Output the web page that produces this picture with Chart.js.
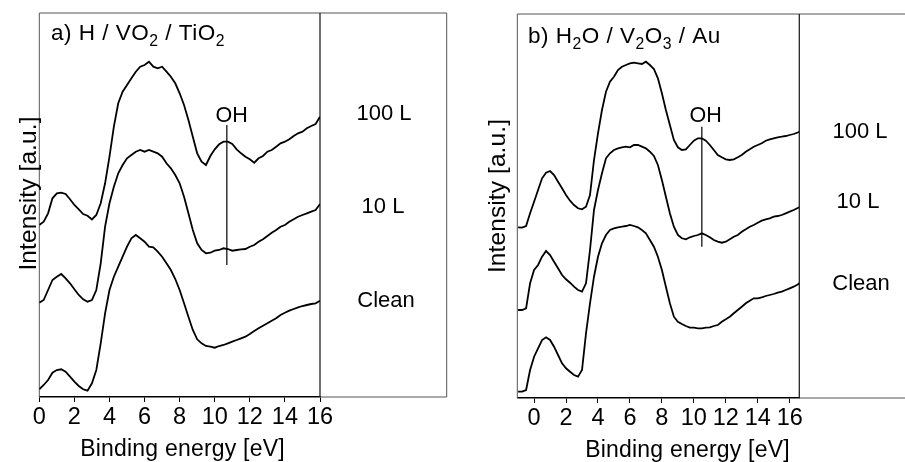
<!DOCTYPE html>
<html><head><meta charset="utf-8">
<script src="https://cdn.jsdelivr.net/npm/chart.js@4.4.1/dist/chart.umd.min.js"></script>
<style>
html,body{margin:0;padding:0;background:#fff;}
#wrap{position:relative;width:905px;height:462px;overflow:hidden;background:#fff;}
canvas{position:absolute;left:0;top:0;}
</style></head><body>
<div id="wrap"><canvas id="ca" width="905" height="462"></canvas><canvas id="cb" width="905" height="462"></canvas></div>
<script>
// ---------- DATA (intensity in arbitrary units) ----------
const tickLabelsA = [0, 2, 4, 6, 8, 10, 12, 14, 16];
const tickLabelsB = [0, 2, 4, 6, 8, 10, 12, 14, 16];
const coverages = ["100 L", "10 L", "Clean"];

// panel a) H / VO2 / TiO2
const energyA = [
  0, 0.25, 0.5, 0.75, 1, 1.25, 1.5, 1.75, 2, 2.25, 2.5, 2.75, 3, 3.25, 3.5, 3.75,
  4, 4.25, 4.5, 4.75, 5, 5.25, 5.5, 5.75, 6, 6.25, 6.5, 6.75, 7, 7.25, 7.5, 7.75,
  8, 8.25, 8.5, 8.75, 9, 9.25, 9.5, 9.75, 10, 10.25, 10.5, 10.75, 11, 11.25, 11.5, 11.75,
  12, 12.25, 12.5, 12.75, 13, 13.25, 13.5, 13.75, 14, 14.25, 14.5, 14.75, 15, 15.25, 15.5, 15.75,
  16
];
const a100L = [
  172, 175.3, 183.7, 198.7, 203.7, 204.3, 203, 197.7, 192, 187.7, 183, 181.3, 177.5, 182, 193.7, 213.7,
  240.3, 270.3, 293.7, 305.3, 312, 318.7, 325.3, 330.3, 332, 335.3, 330.3, 328.7, 330.3, 325.3, 320.3, 313.7,
  303.7, 292, 277, 260.3, 243.7, 235.3, 232, 241, 247.7, 252.7, 255.3, 255.3, 253, 247.7, 243.7, 240.3,
  237.7, 234.3, 238.7, 241, 245.3, 247, 250.3, 253.7, 255.3, 257.7, 261, 263.7, 265.3, 268.7, 271, 273,
  280.3
];
const a10L = [
  94.3, 97, 107, 117, 120.3, 123, 118.7, 113.7, 107.7, 102, 97.7, 95.3, 97, 107, 133.7, 170.3,
  193.7, 210.3, 223.7, 232, 238.7, 242, 245.3, 247, 245.3, 247, 245.3, 243.7, 240.3, 233.7, 228.7, 222,
  213.7, 200.3, 183.7, 167, 153.7, 147, 143.7, 144.3, 146.3, 147, 148.7, 148, 146.3, 147, 147.7, 148,
  150.3, 152, 155.3, 157.7, 161, 164.3, 167, 170.3, 172, 175.3, 177.7, 180.3, 182, 183.7, 185.3, 187,
  193
];
const aClean = [
  7.7, 12, 17, 24.3, 27, 27.7, 25.3, 20.3, 15.3, 11, 7.7, 6.3, 13.7, 27, 53.7, 83.7,
  107, 120.3, 130.3, 140.3, 150.3, 158.7, 162, 158.7, 155.3, 150.3, 149.7, 145.3, 140.3, 133.7, 127, 118,
  107, 93.7, 80.3, 67, 57.7, 53.7, 51, 50.3, 49.3, 51, 52, 53.7, 55.3, 57, 58.7, 60.3,
  63, 66, 68.7, 71.3, 73.7, 76.3, 78.7, 82, 84.3, 86.3, 88, 89.7, 91, 92, 93, 93.7,
  96.3
];
const ohA = { energy: 10.69, low: 132, high: 272 };

// panel b) H2O / V2O3 / Au
const energyB = [
  -1, -0.75, -0.5, -0.25,
  0, 0.25, 0.5, 0.75, 1, 1.25, 1.5, 1.75, 2, 2.25, 2.5, 2.75, 3, 3.25, 3.5, 3.75,
  4, 4.25, 4.5, 4.75, 5, 5.25, 5.5, 5.75, 6, 6.25, 6.5, 6.75, 7, 7.25, 7.5, 7.75,
  8, 8.25, 8.5, 8.75, 9, 9.25, 9.5, 9.75, 10, 10.25, 10.5, 10.75, 11, 11.25, 11.5, 11.75,
  12, 12.25, 12.5, 12.75, 13, 13.25, 13.5, 13.75, 14, 14.25, 14.5, 14.75, 15, 15.25, 15.5, 15.75,
  16, 16.25, 16.5, 16.6
];
const b100L = [
  170.7, 170.3, 172, 184.7,
  196.3, 208, 219.7, 225.3, 227, 223, 216.3, 209.7, 203, 197.3, 193, 189.7, 188.7, 191.3, 203, 238,
  264.7, 288, 306.3, 316.3, 321.3, 328, 331.3, 333, 334.7, 335.3, 334.7, 334, 336.3, 333, 329, 319.7,
  304.7, 288, 273, 258, 250.7, 248, 248.7, 253, 257.3, 259.7, 259.7, 257.3, 253, 248, 243, 240.7,
  238.7, 238, 238.7, 240.7, 243, 246.3, 248.7, 251.3, 253, 254.7, 257.3, 258.7, 259.7, 260.7, 261.3, 262,
  263, 264, 265.5, 266.3
];
const b10L = [
  88, 88, 89.7, 114.7,
  128, 133, 141.3, 147, 143, 136.3, 129.7, 123, 118.7, 115.3, 111.3, 108, 106.3, 114.7, 148, 188,
  208, 224.7, 239.7, 244.7, 248, 249.7, 250.7, 251.3, 250.7, 253, 253, 251.3, 249.7, 246.3, 242, 233,
  218, 201.3, 184.7, 171.3, 163, 159.7, 158.7, 160.7, 162, 163, 164.7, 163, 160.7, 158, 156.3, 155.3,
  156.3, 158.7, 161.3, 163, 166.3, 168.7, 171.3, 173, 175.3, 177.3, 178.7, 179.7, 181.3, 182, 183, 184.7,
  186.3, 188, 190, 190.7
];
const bClean = [
  6.3, 6.3, 8, 28,
  41.3, 49.7, 58, 60.7, 58, 51.3, 43, 34.7, 29.7, 26.3, 23, 21.3, 28, 64.7, 94.7, 121.3,
  141.3, 154.7, 163, 168, 169.7, 170.7, 171.3, 172, 173, 172, 170.7, 168, 164.7, 158, 151.3, 141.3,
  128, 111.3, 94.7, 81.3, 76.3, 74, 72, 70.3, 70.3, 69.7, 69.7, 70.3, 70.7, 72, 73, 76.3,
  78.7, 81.3, 84.7, 88, 91.3, 94.7, 97.3, 99.7, 99.7, 100.7, 102, 103, 104, 105.3, 106.3, 108,
  109.7, 111.3, 113.5, 114.7
];
const ohB = { energy: 10.5, low: 151.3, high: 271.3 };

// ---------- RENDERING ----------
const FONT = '"Liberation Sans", Arial, Helvetica, sans-serif';

function pts(xs, ys) { return xs.map((x, i) => ({ x: x, y: ys[i] })); }

function drawRich(ctx, segs, x, y, size, align, spacing) {
  let w = 0;
  const parts = segs.map(s => {
    const fs = s.sub ? size * 0.7 : size;
    ctx.font = fs + 'px ' + FONT;
    ctx.letterSpacing = (spacing || 0) + 'px';
    const m = ctx.measureText(s.t).width;
    w += m;
    return { t: s.t, fs: fs, m: m, dy: s.sub ? size * 0.27 : 0 };
  });
  let cx = align === 'center' ? x - w / 2 : x;
  parts.forEach(p => {
    ctx.font = p.fs + 'px ' + FONT;
    ctx.letterSpacing = (spacing || 0) + 'px';
    ctx.fillText(p.t, cx, y + p.dy);
    cx += p.m;
  });
}

const panelPlugin = {
  id: 'panel',
  beforeDatasetsDraw(chart, args, o) {
    const ctx = chart.ctx, ca = chart.chartArea;
    ctx.save();
    ctx.strokeStyle = o.boxColor;
    ctx.lineWidth = 1;
    ctx.beginPath();
    ctx.moveTo(ca.left, ca.bottom); ctx.lineTo(ca.left, ca.top);
    ctx.lineTo(o.outerRight, ca.top); ctx.lineTo(o.outerRight, ca.bottom);
    ctx.lineTo(ca.right, ca.bottom);
    ctx.stroke();
    ctx.strokeStyle = o.dividerColor;
    ctx.lineWidth = 1.3;
    ctx.beginPath();
    ctx.moveTo(ca.right, ca.top); ctx.lineTo(ca.right, ca.bottom);
    ctx.stroke();
    ctx.restore();
  },
  afterDraw(chart, args, o) {
    const ctx = chart.ctx;
    ctx.save();
    ctx.fillStyle = '#000';
    ctx.textBaseline = 'alphabetic';
    o.texts.forEach(t => {
      if (t.rotate) {
        ctx.save();
        ctx.translate(t.x, t.y);
        ctx.rotate(-Math.PI / 2);
        drawRich(ctx, t.segs, 0, 0, t.size, 'center', t.spacing);
        ctx.restore();
      } else {
        drawRich(ctx, t.segs, t.x, t.y, t.size, t.align, t.spacing);
      }
    });
    ctx.restore();
  }
};

function makeChart(id, cfg) {
  const ds = cfg.series.map(s => ({
    data: pts(cfg.energy, s),
    borderColor: '#000', borderWidth: 1.8, pointRadius: 0, tension: 0, fill: false
  }));
  ds.push({
    data: [{ x: cfg.oh.energy, y: cfg.oh.low }, { x: cfg.oh.energy, y: cfg.oh.high }],
    borderColor: '#000', borderWidth: 1.2, pointRadius: 0, fill: false
  });
  return new Chart(document.getElementById(id), {
    type: 'line',
    data: { datasets: ds },
    plugins: [panelPlugin],
    options: {
      responsive: false, animation: false, devicePixelRatio: 1,
      layout: { padding: cfg.padding },
      plugins: {
        legend: { display: false }, tooltip: { enabled: false }, title: { display: false },
        panel: { boxColor: '#555', dividerColor: '#222', outerRight: cfg.outerRight, texts: cfg.texts }
      },
      scales: {
        x: {
          type: 'linear', min: cfg.xmin, max: cfg.xmax,
          afterBuildTicks: s => { s.ticks = cfg.ticks.map(v => ({ value: v })); },
          afterFit: s => { s.height = cfg.xHeight; },
          ticks: { font: { family: FONT, size: 23.5 }, color: '#000', padding: 1, maxRotation: 0, autoSkip: false },
          grid: { display: true, drawOnChartArea: false, drawTicks: true, tickLength: 5, color: '#000', lineWidth: 1 },
          border: { display: true, color: '#000', width: 1.5 }
        },
        y: { type: 'linear', display: false, min: 0, max: 384 }
      }
    }
  });
}

const sub = t => ({ t: t, sub: true });
const txt = t => ({ t: t });

makeChart('ca', {
  energy: energyA, series: [a100L, a10L, aClean], oh: ohA, ticks: tickLabelsA,
  xmin: 0, xmax: 16, xHeight: 65,
  padding: { left: 39.3, top: 13, right: 905 - 320, bottom: 0 },
  outerRight: 446.7,
  texts: [
    { segs: [txt('a) H / VO'), sub('2'), txt(' / TiO'), sub('2')], x: 51, y: 40, size: 22.5, align: 'left', spacing: 0.5 },
    { segs: [txt('OH')], x: 231.7, y: 121.5, size: 21.5, align: 'center' },
    { segs: [txt(coverages[0])], x: 384, y: 120, size: 22, align: 'center' },
    { segs: [txt(coverages[1])], x: 383, y: 213, size: 22, align: 'center' },
    { segs: [txt(coverages[2])], x: 386, y: 307, size: 22, align: 'center' },
    { segs: [txt('Binding energy [eV]')], x: 182.5, y: 456, size: 23, align: 'center', spacing: 0.2 },
    { segs: [txt('Intensity [a.u.]')], x: 36, y: 193.5, size: 24.5, rotate: true, spacing: 0.1 }
  ]
});

makeChart('cb', {
  energy: energyB, series: [b100L, b10L, bClean], oh: ohB, ticks: tickLabelsB,
  xmin: -1.05, xmax: 16.6, xHeight: 64,
  padding: { left: 517.3, top: 14, right: 905 - 799.3, bottom: 0 },
  outerRight: 910,
  texts: [
    { segs: [txt('b) H'), sub('2'), txt('O / V'), sub('2'), txt('O'), sub('3'), txt(' / Au')], x: 528, y: 42.7, size: 22.5, align: 'left', spacing: 0.5 },
    { segs: [txt('OH')], x: 705.7, y: 122, size: 21.5, align: 'center' },
    { segs: [txt(coverages[0])], x: 860, y: 138, size: 22, align: 'center' },
    { segs: [txt(coverages[1])], x: 858, y: 208, size: 22, align: 'center' },
    { segs: [txt(coverages[2])], x: 861, y: 290, size: 22, align: 'center' },
    { segs: [txt('Binding energy [eV]')], x: 687.5, y: 456.5, size: 23, align: 'center', spacing: 0.2 },
    { segs: [txt('Intensity [a.u.]')], x: 505, y: 196, size: 24.5, rotate: true, spacing: 0.1 }
  ]
});
</script>
</body></html>
